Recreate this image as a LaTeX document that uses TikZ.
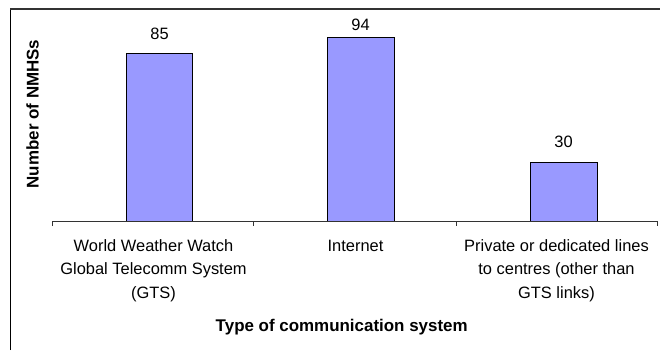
\documentclass[tikz,border=0pt]{standalone}
\usepackage{fontspec}
\setmainfont{Liberation Sans}
\definecolor{barfill}{HTML}{9999FF}
\definecolor{framegray}{HTML}{333333}
\begin{document}
\begin{tikzpicture}[x=1bp,y=-1bp,
  bar/.style={draw=black,line width=1bp,fill=barfill},
  vallabel/.style={inner sep=0pt,anchor=base,font=\fontsize{16.5}{19}\selectfont},
  catlabel/.style={inner sep=0pt,anchor=base,align=center,font=\fontsize{16.5}{23.5}\selectfont},
  axtitle/.style={inner sep=0pt,anchor=base,font=\fontsize{17}{20}\selectfont\bfseries}]
\useasboundingbox (0,0) rectangle (660,350);
\fill[white] (0,0) rectangle (660,350);
% frame
\draw[line width=1bp,black] (10.3,350) -- (10.3,9);
\draw[line width=1.3bp,framegray] (10.3,9) -- (660,9);
% bars
\draw[bar] (126.3,221) rectangle (192.8,53.7);
\draw[bar] (327,221) rectangle (394,37);
\draw[bar] (530,221) rectangle (597,162);
% axis
\coordinate (a0) at (52.5,221);
\coordinate (a3) at (657.3,221);
\draw[line width=1bp,framegray] (52.5,226) -- (a0) -- (a3) -- (657.3,226);
\draw[line width=1bp,framegray] (253.4,221) -- (253.4,226);
\draw[line width=1bp,framegray] (456.2,221) -- (456.2,226);
% value labels
\node[vallabel] (v1) at (159.5,39.3) {85};
\node[vallabel] (v2) at (360.5,30.7) {94};
\node[vallabel] (v3) at (563.5,147.7) {30};
% category labels (base anchor = last line)
\node[catlabel] (c1) at (153.5,298) {World Weather Watch\\Global Telecomm System\\(GTS)};
\node[catlabel] (c2) at (355.5,251) {Internet};
\node[catlabel] (c3) at (556.5,298) {Private or dedicated lines\\to centres (other than\\GTS links)};
% axis titles
\node[axtitle] (xt) at (341.7,331) {Type of communication system};
\node[axtitle,rotate=90] (yt) at (38.5,114) {Number of NMHSs};
\end{tikzpicture}
\end{document}
